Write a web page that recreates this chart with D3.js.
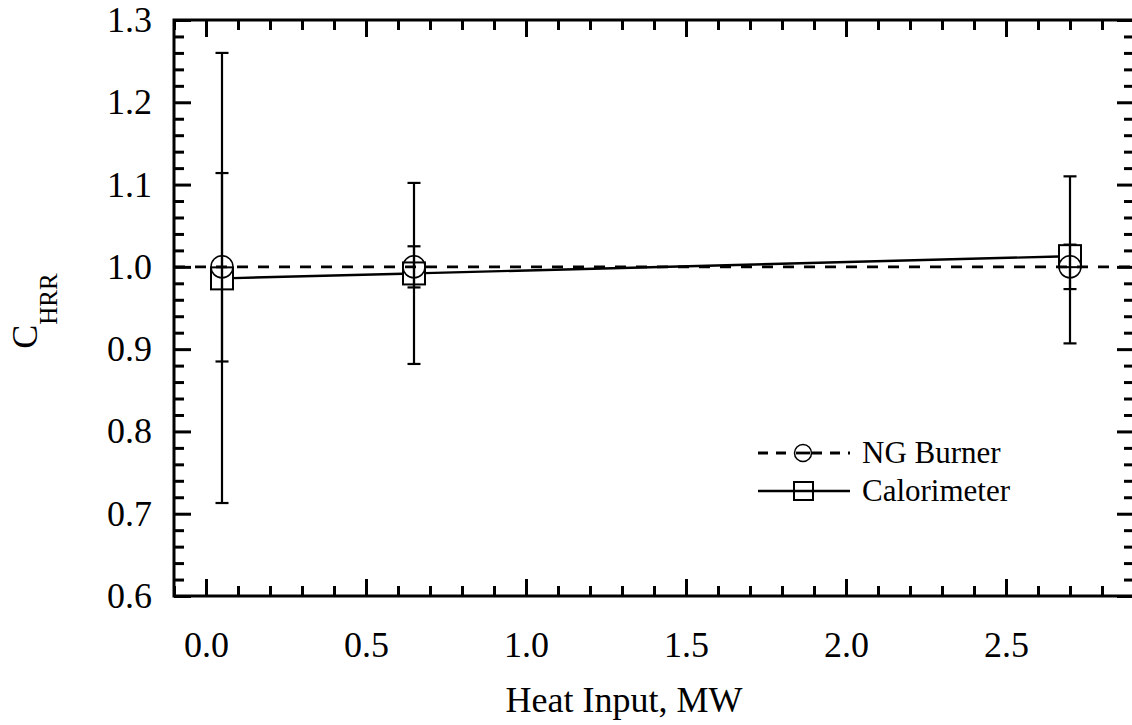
<!DOCTYPE html>
<html>
<head>
<meta charset="utf-8">
<script src="https://cdn.jsdelivr.net/npm/d3@7"></script>
<style>
  html, body { margin: 0; padding: 0; background: #fff; }
  svg { display: block; }
  text { font-family: "Liberation Serif", "Times New Roman", serif; fill: #000; }
</style>
</head>
<body>
<svg id="chart" width="1132" height="725"></svg>
<script>
// ---- data ----
const heatInput = [0.05, 0.65, 2.7];
const ngValues = [1.0, 1.0, 1.0];
const ngLow = [0.885, 0.975, 0.973];
const ngHigh = [1.114, 1.025, 1.027];
const calValues = [0.986, 0.992, 1.013];
const calLow = [0.713, 0.882, 0.907];
const calHigh = [1.26, 1.102, 1.110];
const xTickLabels = ["0.0", "0.5", "1.0", "1.5", "2.0", "2.5"];
const yTickLabels = ["0.6", "0.7", "0.8", "0.9", "1.0", "1.1", "1.2", "1.3"];
const seriesNames = ["NG Burner", "Calorimeter"];

// ---- layout ----
const svg = d3.select("#chart");
const mLeft = 174, mTop = 20, plotW = 960, plotH = 576;
const x = d3.scaleLinear().domain([-0.1, 2.9]).range([mLeft, mLeft + plotW]);
const y = d3.scaleLinear().domain([0.6, 1.3]).range([mTop + plotH, mTop]);

const xMajor = xTickLabels.map(Number);
const xMinor = d3.range(-1, 30).map(i => i / 10).filter(v => !xMajor.some(m => Math.abs(m - v) < 1e-9));
const yMajor = yTickLabels.map(Number);
const yMinor = d3.range(30, 66).map(i => i / 50).filter(v => !yMajor.some(m => Math.abs(m - v) < 1e-9));

const majorLen = 17, minorLen = 10;
function styleAxis(g, withText) {
  g.select(".domain").remove();
  g.selectAll(".tick line").attr("stroke", "#000").attr("stroke-width", 3);
  if (withText) g.selectAll(".tick text").attr("font-size", 36).attr("font-family", '"Liberation Serif", "Times New Roman", serif').attr("fill", "#000");
  else g.selectAll(".tick text").remove();
}
// bottom
svg.append("g").attr("transform", `translate(0,${mTop + plotH})`)
  .call(d3.axisBottom(x).tickValues(xMajor).tickFormat((d, i) => xTickLabels[i]).tickSize(-majorLen).tickPadding(35))
  .call(g => styleAxis(g, true));
svg.append("g").attr("transform", `translate(0,${mTop + plotH})`)
  .call(d3.axisBottom(x).tickValues(xMinor).tickSize(-minorLen))
  .call(g => styleAxis(g, false));
// top
svg.append("g").attr("transform", `translate(0,${mTop})`)
  .call(d3.axisTop(x).tickValues(xMajor).tickSize(-majorLen))
  .call(g => styleAxis(g, false));
svg.append("g").attr("transform", `translate(0,${mTop})`)
  .call(d3.axisTop(x).tickValues(xMinor).tickSize(-minorLen))
  .call(g => styleAxis(g, false));
// left
svg.append("g").attr("transform", `translate(${mLeft},0)`)
  .call(d3.axisLeft(y).tickValues(yMajor).tickFormat((d, i) => yTickLabels[i]).tickSize(-majorLen).tickPadding(22))
  .call(g => styleAxis(g, true));
svg.append("g").attr("transform", `translate(${mLeft},0)`)
  .call(d3.axisLeft(y).tickValues(yMinor).tickSize(-minorLen))
  .call(g => styleAxis(g, false));
// right
svg.append("g").attr("transform", `translate(${mLeft + plotW},0)`)
  .call(d3.axisRight(y).tickValues(yMajor).tickSize(-majorLen))
  .call(g => styleAxis(g, false));
svg.append("g").attr("transform", `translate(${mLeft + plotW},0)`)
  .call(d3.axisRight(y).tickValues(yMinor).tickSize(-minorLen))
  .call(g => styleAxis(g, false));

// frame
svg.append("rect").attr("x", mLeft).attr("y", mTop).attr("width", plotW).attr("height", plotH)
  .attr("fill", "none").attr("stroke", "#000").attr("stroke-width", 3);

// ---- NG burner dashed line (extends across plot) ----
const ngLinePts = [[x.domain()[0], ngValues[0]]]
  .concat(heatInput.map((d, i) => [d, ngValues[i]]))
  .concat([[x.domain()[1], ngValues[ngValues.length - 1]]]);
svg.append("path")
  .attr("d", d3.line().x(d => x(d[0])).y(d => y(d[1]))(ngLinePts))
  .attr("fill", "none").attr("stroke", "#000").attr("stroke-width", 2.8).attr("stroke-dasharray", "11,10");

// ---- Calorimeter solid line (segments ending at marker edges) ----
const half = 11;
for (let i = 0; i < heatInput.length - 1; i++) {
  const x1 = x(heatInput[i]), y1 = y(calValues[i]), x2 = x(heatInput[i + 1]), y2 = y(calValues[i + 1]);
  const dx = x2 - x1, dy = y2 - y1;
  const t = half / Math.abs(dx);
  svg.append("line")
    .attr("x1", x1 + dx * t).attr("y1", y1 + dy * t)
    .attr("x2", x2 - dx * t).attr("y2", y2 - dy * t)
    .attr("stroke", "#000").attr("stroke-width", 2.4);
}

// ---- error bars ----
const capHalf = 6.5;
function errorBars(lo, hi) {
  heatInput.forEach((d, i) => {
    const cx = x(d);
    const g = svg.append("g").attr("stroke", "#000").attr("stroke-width", 2.2);
    g.append("line").attr("x1", cx).attr("x2", cx).attr("y1", y(lo[i])).attr("y2", y(hi[i]));
    g.append("line").attr("x1", cx - capHalf).attr("x2", cx + capHalf).attr("y1", y(lo[i])).attr("y2", y(lo[i]));
    g.append("line").attr("x1", cx - capHalf).attr("x2", cx + capHalf).attr("y1", y(hi[i])).attr("y2", y(hi[i]));
  });
}
errorBars(ngLow, ngHigh);
errorBars(calLow, calHigh);

// ---- markers ----
svg.selectAll("circle.ng").data(heatInput).enter().append("circle")
  .attr("cx", d => x(d)).attr("cy", (d, i) => y(ngValues[i])).attr("r", 11)
  .attr("fill", "none").attr("stroke", "#000").attr("stroke-width", 1.5);
svg.selectAll("rect.cal").data(heatInput).enter().append("rect")
  .attr("x", d => x(d) - 11).attr("y", (d, i) => y(calValues[i]) - 11).attr("width", 22).attr("height", 22)
  .attr("fill", "none").attr("stroke", "#000").attr("stroke-width", 2);

// ---- legend ----
const lg = svg.append("g").attr("transform", "translate(758,453)");
lg.append("line").attr("x1", 0).attr("x2", 92).attr("y1", 0).attr("y2", 0)
  .attr("stroke", "#000").attr("stroke-width", 2.8).attr("stroke-dasharray", "10,8");
lg.append("circle").attr("cx", 45).attr("cy", 0).attr("r", 8.5).attr("fill", "#fff").attr("stroke", "#000").attr("stroke-width", 1.5);
lg.append("line").attr("x1", 38).attr("x2", 52).attr("y1", 0).attr("y2", 0).attr("stroke", "#000").attr("stroke-width", 2.8);
lg.append("text").attr("x", 104).attr("y", 0).attr("dy", "0.33em").attr("font-size", 31).text(seriesNames[0]);
const lg2 = svg.append("g").attr("transform", "translate(758,491)");
lg2.append("line").attr("x1", 0).attr("x2", 92).attr("y1", 0).attr("y2", 0).attr("stroke", "#000").attr("stroke-width", 2.4);
lg2.append("rect").attr("x", 36).attr("y", -9).attr("width", 19).attr("height", 18).attr("fill", "none").attr("stroke", "#000").attr("stroke-width", 2);
lg2.append("text").attr("x", 104).attr("y", 0).attr("dy", "0.33em").attr("font-size", 31).text(seriesNames[1]);

// ---- axis titles ----
svg.append("text").attr("x", mLeft + plotW / 2 - 30).attr("y", 712).attr("text-anchor", "middle")
  .attr("font-size", 36).text("Heat Input, MW");
const yt = svg.append("text").attr("transform", "translate(37,311) rotate(-90)").attr("text-anchor", "middle");
yt.append("tspan").attr("font-size", 36).text("C");
yt.append("tspan").attr("font-size", 25).attr("dy", 20).text("HRR");
</script>
</body>
</html>
